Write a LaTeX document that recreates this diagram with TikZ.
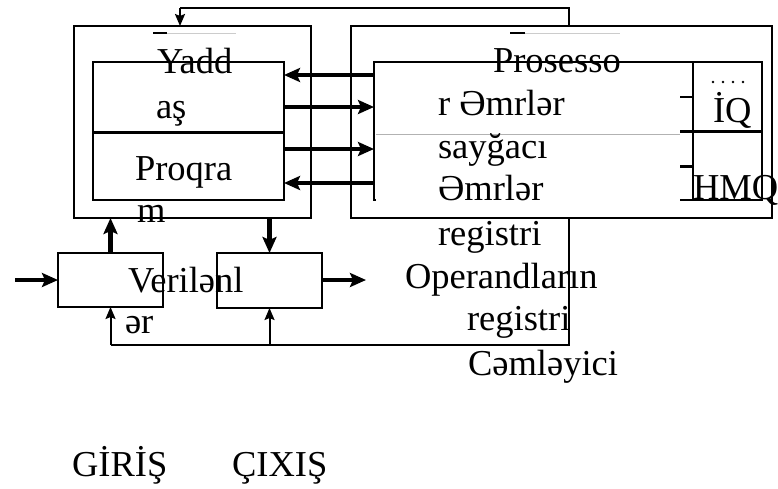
\documentclass[tikz,border=0pt]{standalone}
\usepackage{fontspec}
\setmainfont{Liberation Serif}
\usetikzlibrary{arrows.meta}
\begin{document}
\begin{tikzpicture}[x=1pt,y=-1pt,
  box/.style={draw, line width=1.8pt, inner sep=0pt, outer sep=0pt, anchor=north west},
  lbl/.style={anchor=base west, inner sep=0pt, outer sep=0pt, font=\fontsize{36.5}{43}\selectfont},
  thickarr/.style={line width=4.8pt, -{Stealth[length=16pt,width=14pt,inset=3pt]}},
  thinarr/.style={line width=2pt, -{Stealth[length=12pt,width=10pt,inset=2pt]}},
  thinline/.style={line width=2pt},
]
\useasboundingbox (0,0) rectangle (778,488);
% boxes
\node[box, fill=white, minimum width=421pt, minimum height=192pt] (proc) at (351,26) {};
\node[box, minimum width=237pt, minimum height=192pt] (mem) at (74,26) {};
\node[box, minimum width=191pt, minimum height=138pt] (memin) at (93,62) {};
\node[box, minimum width=319pt, minimum height=138pt] (procin) at (374,62) {};
\node[box, minimum width=69pt, minimum height=138pt] (iq) at (693,62) {};
\node[box, minimum width=105pt, minimum height=54pt] (inb) at (58,253) {};
\node[box, minimum width=105pt, minimum height=55pt] (outb) at (217,253) {};
\coordinate (inA) at (15,280);
\coordinate (outA) at (366,280);
\coordinate (fbA) at (569,345);
\coordinate (fbB) at (569,8);
\coordinate (fbC) at (180,8);
% white text area in processor
\fill[white] (376,64) rectangle (680,201.5);
\draw[gray!60, line width=0.6pt] (376,134) -- (680,134);
% dividers and ticks
\draw[line width=3pt] (memin.west |- 0,132) -- (memin.east |- 0,132);
\draw[line width=3pt] (680,131) -- (iq.east |- 0,131);
\draw[line width=1.2pt] (680,97) -- (iq.west |- 0,97);
\draw[line width=3pt] (680,166) -- (iq.west |- 0,166);
% small fragments
\draw[line width=1.5pt] (153,33) -- (167,33);
\draw[line width=1.5pt] (510,33) -- (525,33);
\draw[gray!40, line width=0.6pt] (167,33) -- (236,33);
\draw[gray!40, line width=0.6pt] (525,33) -- (620,33);
% feedback loop
\draw[thinline] (inb.south |- fbA) -- (fbA) -- (fbA |- proc.south);
\draw[thinline] (fbA |- proc.north) -- (fbB) -- (fbC);
\draw[thinarr] (fbC) -- (fbC |- mem.north);
\draw[thinarr] (inb.south |- fbA) -- (inb.south);
\draw[thinarr] (outb.south |- fbA) -- (outb.south);
% memory <-> processor
\draw[thickarr] (procin.west |- 0,75) -- (memin.east |- 0,75);
\draw[thickarr] (memin.east |- 0,107) -- (procin.west |- 0,107);
\draw[thickarr] (memin.east |- 0,149) -- (procin.west |- 0,149);
\draw[thickarr] (procin.west |- 0,183) -- (memin.east |- 0,183);
% memory <-> io
\draw[thickarr] (inb.north) -- (inb.north |- mem.south);
\draw[thickarr] (outb.north |- mem.south) -- (outb.north);
\draw[thickarr] (inA) -- (inA -| inb.west);
\draw[thickarr] (outA -| outb.east) -- (outA);
% dots
\foreach \dx in {713,723,733,743} \fill (\dx,82) circle (1.4pt);
% labels
\node[lbl] (t1) at (157,73) {Yadd};
\node[lbl] (t2) at (156,118) {aş};
\node[lbl] (t3) at (135,180) {Proqra};
\node[lbl] (t4) at (137,222) {m};
\node[lbl] (t5) at (493,72) {Prosesso};
\node[lbl] (t6) at (438,115) {r Əmrlər};
\node[lbl] (t7) at (438,158) {sayğacı};
\node[lbl] (t8) at (438,200) {Əmrlər};
\node[lbl] (t9) at (438,245) {registri};
\node[lbl] (t10) at (405,288) {Operandların};
\node[lbl] (t11) at (467,330) {registri};
\node[lbl] (t12) at (468,375) {Cəmləyici};
\node[lbl] (t13) at (713,122) {İQ};
\node[lbl] (t14) at (693,199) {HMQ};
\node[lbl] (t15) at (128,292) {Verilənl};
\node[lbl] (t16) at (125,333) {ər};
\node[lbl] (t17) at (72,476) {GİRİŞ};
\node[lbl] (t18) at (232,476) {ÇIXIŞ};
\end{tikzpicture}
\end{document}
